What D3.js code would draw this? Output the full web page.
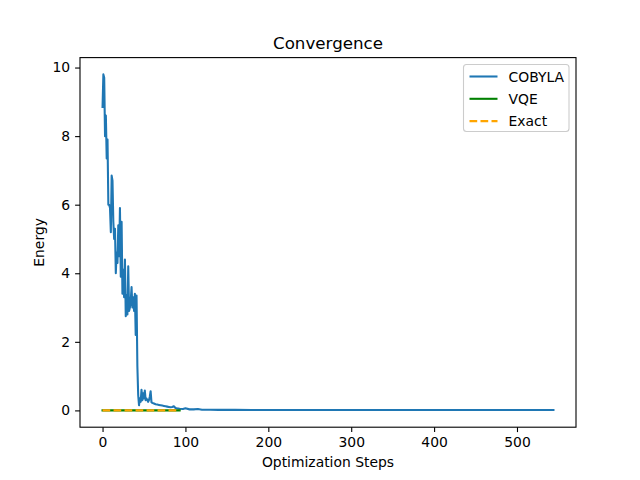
<!DOCTYPE html>
<html>
<head>
<meta charset="utf-8">
<script src="https://cdn.jsdelivr.net/npm/d3@7"></script>
<style>
  html, body { margin: 0; padding: 0; background: #fff; }
  svg { display: block; font-family: "DejaVu Sans", sans-serif; }
</style>
</head>
<body>
<svg id="chart" width="640" height="480"></svg>
<script>
// ---- data ----
const cobylaSteps = [
  0,1,2,3,4,5,6,7,8,9,10,11,12,13,14,15,16,17,18,19,20,
  21,22,23,24,25,26,27,28,29,30,31,32,33,34,35,36,37,38,39,40,
  41,42,43,44,45,46,47,48,49,50,51,52,53,54,55,56,57,58,59,60,
  62,64,66,68,70,72,74,76,78,80,82,84,86,88,90,93,97,100,105,110,115,120,
  130,140,160,180,200,220,240,260,280,300,320,340,360,380,400,420,440,460,480,500,520,544
];
const cobylaEnergy = [
  8.85,9.8,9.7,8.0,8.6,7.35,7.9,6.0,6.0,5.9,5.2,6.85,6.7,5.5,5.0,5.3,4.0,4.6,4.3,5.4,4.5,
  5.9,3.9,5.5,3.4,4.1,3.3,4.4,2.75,3.35,2.8,4.2,2.9,3.0,3.2,3.6,3.0,3.3,2.9,3.4,2.2,
  3.35,1.3,0.45,0.15,0.35,0.25,0.6,0.3,0.5,0.35,0.58,0.3,0.35,0.3,0.25,0.3,0.4,0.56,0.24,0.22,
  0.2,0.18,0.17,0.16,0.15,0.14,0.13,0.12,0.11,0.1,0.09,0.1,0.12,0.07,0.06,0.05,0.04,0.06,0.03,0.03,0.04,0.02,
  0.02,0.015,0.015,0.012,0.012,0.01,0.012,0.01,0.01,0.012,0.01,0.01,0.01,0.012,0.01,0.01,0.01,0.01,0.01,0.01,0.01,0.01
];
const vqeSteps = [0, 20, 40, 60, 80, 93];
const vqeEnergy = [0, 0, 0, 0, 0, 0];
const exactSteps = [0, 93];
const exactEnergy = [0, 0];
const xTicks = [0, 100, 200, 300, 400, 500];
const yTicks = [0, 2, 4, 6, 8, 10];
const legendLabels = ["COBYLA", "VQE", "Exact"];

// ---- layout ----
const W = 640, H = 480;
const L = 80, R = 576, T = 57.6, B = 427.2;
const svg = d3.select("#chart");

const allX = cobylaSteps.concat(vqeSteps, exactSteps);
const allY = cobylaEnergy.concat(vqeEnergy, exactEnergy);
const [x0, x1] = d3.extent(allX);
const [y0, y1] = d3.extent(allY);
const mx = (x1 - x0) * 0.05, my = (y1 - y0) * 0.05;

const x = d3.scaleLinear().domain([x0 - mx, x1 + mx]).range([L, R]);
const y = d3.scaleLinear().domain([y0 - my, y1 + my]).range([B, T]);

const series = [
  { name: "COBYLA", xs: cobylaSteps, ys: cobylaEnergy, color: "#1f77b4", dash: null },
  { name: "VQE", xs: vqeSteps, ys: vqeEnergy, color: "green", dash: null },
  { name: "Exact", xs: exactSteps, ys: exactEnergy, color: "orange", dash: "7.7,3.3" }
];

const clipId = "plotclip";
svg.append("defs").append("clipPath").attr("id", clipId)
  .append("rect").attr("x", L).attr("y", T).attr("width", R - L).attr("height", B - T);

const line = d3.line().x(d => x(d[0])).y(d => y(d[1]));
const g = svg.append("g").attr("clip-path", `url(#${clipId})`);
series.forEach(s => {
  g.append("path")
    .datum(s.xs.map((v, i) => [v, s.ys[i]]))
    .attr("fill", "none")
    .attr("stroke", s.color)
    .attr("stroke-width", 2.08)
    .attr("stroke-linejoin", "round")
    .attr("stroke-linecap", s.dash ? "butt" : "square")
    .attr("stroke-dasharray", s.dash)
    .attr("d", line);
});

// axes
const xAxis = d3.axisBottom(x).tickValues(xTicks).tickSize(4.9).tickPadding(4.9).tickFormat(d3.format("d"));
const yAxis = d3.axisLeft(y).tickValues(yTicks).tickSize(4.9).tickPadding(4.9).tickFormat(d3.format("d"));
const gx = svg.append("g").attr("transform", `translate(0,${B})`).call(xAxis);
const gy = svg.append("g").attr("transform", `translate(${L},0)`).call(yAxis);
[gx, gy].forEach(a => {
  a.select(".domain").remove();
  a.selectAll(".tick line").attr("stroke", "#000").attr("stroke-width", 1.1);
  a.selectAll(".tick text").attr("fill", "#000").style("font-size", "13.9px").style("font-family", "DejaVu Sans");
});

// frame
svg.append("rect").attr("x", L).attr("y", T).attr("width", R - L).attr("height", B - T)
  .attr("fill", "none").attr("stroke", "#000").attr("stroke-width", 1.1);

// labels
svg.append("text").attr("x", (L + R) / 2).attr("y", 49).attr("text-anchor", "middle")
  .style("font-size", "16.7px").text("Convergence");
svg.append("text").attr("x", (L + R) / 2).attr("y", 467).attr("text-anchor", "middle")
  .style("font-size", "13.9px").text("Optimization Steps");
svg.append("text").attr("transform", `translate(44,${(T + B) / 2}) rotate(-90)`).attr("text-anchor", "middle")
  .style("font-size", "13.9px").text("Energy");

// legend
const lg = svg.append("g");
lg.append("rect").attr("x", 463.5).attr("y", 64.5).attr("width", 105.5).attr("height", 67)
  .attr("rx", 3).attr("fill", "#fff").attr("fill-opacity", 0.8)
  .attr("stroke", "#ccc").attr("stroke-width", 1.1);
series.forEach((s, i) => {
  const yy = 76.5 + i * 22.3;
  lg.append("line").attr("x1", 469.5).attr("x2", 497.5).attr("y1", yy).attr("y2", yy)
    .attr("stroke", s.color).attr("stroke-width", 2.08).attr("stroke-dasharray", s.dash);
  lg.append("text").attr("x", 508.5).attr("y", yy + 5).style("font-size", "13.9px").text(legendLabels[i]);
});
</script>
</body>
</html>
